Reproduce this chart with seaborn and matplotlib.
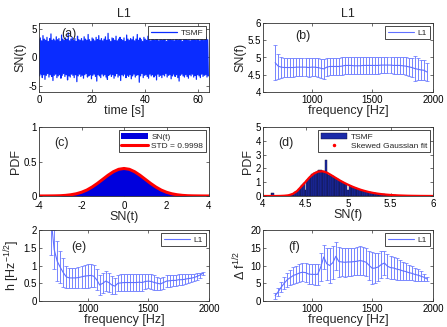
import numpy as np
import matplotlib
matplotlib.use('Agg')
import matplotlib.pyplot as plt
import seaborn as sns
from matplotlib.lines import Line2D
from matplotlib.patches import Patch
from matplotlib.ticker import FuncFormatter

# (a) time series: upper / lower excursions every 0.5 s
sig_up = [3.1, 3.4, 2.9, 3.8, 3.2, 3.0, 3.5, 2.8, 3.3, 4.1, 3.0, 3.2, 2.9, 3.6, 3.1, 3.3,
          2.8, 3.9, 3.2, 3.0, 3.4, 3.1, 4.3, 2.9, 3.2, 3.5, 3.0, 3.3, 2.8, 3.7, 3.1, 3.0,
          3.3, 2.9, 3.6, 3.2, 3.0, 4.0, 3.1, 2.8, 3.4, 3.2, 2.9, 3.5, 3.1, 3.8, 3.0, 3.3,
          2.9, 3.2, 3.6, 3.0, 4.2, 3.1, 2.8, 3.4, 3.3, 3.0, 3.7, 2.9, 3.2, 3.5, 3.1, 3.0,
          3.4, 2.8, 3.9, 3.2, 3.0, 3.3, 3.1, 3.6, 2.9, 3.2, 4.0, 3.0, 3.4, 3.1, 2.8, 3.5,
          3.2, 3.0, 3.7, 3.1, 2.9, 3.3, 4.2, 3.0, 3.2, 3.5, 2.9, 3.1, 3.4, 3.0, 3.8, 3.2,
          2.8, 3.3, 3.1, 3.6, 3.0, 3.2, 2.9, 4.1, 3.3, 3.0, 3.5, 3.1, 2.8, 3.4, 3.2, 3.7,
          3.0, 3.3, 2.9, 3.5, 3.1, 3.9, 3.0, 3.2, 3.4, 2.9, 3.6, 3.1, 3.0, 3.3, 3.5, 3.1]
sig_lo = [-3.2, -2.9, -3.5, -3.0, -3.8, -3.1, -2.8, -3.4, -3.0, -3.3, -4.0, -3.1, -2.9, -3.5, -3.2, -3.0,
          -3.6, -3.1, -2.8, -3.3, -3.0, -3.9, -3.2, -3.4, -2.9, -3.1, -3.5, -3.0, -4.2, -3.2, -2.9, -3.3,
          -3.1, -3.6, -3.0, -2.8, -3.4, -3.2, -3.0, -3.7, -3.1, -2.9, -3.3, -4.1, -3.0, -3.2, -3.5, -2.9,
          -3.2, -3.0, -3.4, -3.8, -3.1, -2.9, -3.3, -3.0, -3.6, -3.2, -2.8, -3.4, -3.1, -4.0, -3.0, -3.2,
          -2.9, -3.5, -3.1, -3.3, -3.0, -3.7, -3.2, -2.9, -3.4, -3.1, -3.0, -4.3, -3.2, -2.8, -3.5, -3.1,
          -3.0, -3.3, -3.6, -2.9, -3.2, -3.0, -3.4, -3.1, -3.9, -2.9, -3.3, -3.1, -3.5, -3.0, -3.2, -2.8,
          -3.4, -3.1, -3.0, -3.7, -3.2, -2.9, -3.3, -3.0, -3.5, -4.1, -3.1, -2.9, -3.2, -3.4, -3.0, -3.3,
          -3.6, -3.0, -3.2, -2.9, -3.4, -3.1, -3.8, -3.0, -3.2, -3.5, -2.9, -3.3, -3.1, -3.0, -3.4, -3.2]

# frequency bins for (b), (e), (f)
freq = list(range(700, 1951, 25))

snf_mean = [4.85, 4.75, 4.72, 4.71, 4.71, 4.71, 4.71, 4.72, 4.72, 4.72, 4.72, 4.71, 4.72, 4.72, 4.71,
            4.69, 4.67, 4.72, 4.74, 4.74, 4.74, 4.74, 4.75, 4.77, 4.77, 4.77, 4.76, 4.76, 4.76, 4.77,
            4.77, 4.77, 4.77, 4.77, 4.77, 4.78, 4.78, 4.78, 4.78, 4.77, 4.77, 4.77, 4.76, 4.75, 4.73,
            4.71, 4.68, 4.66, 4.64, 4.63, 4.58]
snf_err = [0.51, 0.36, 0.30, 0.27, 0.27, 0.27, 0.27, 0.27, 0.27, 0.27, 0.27, 0.27, 0.27, 0.27, 0.27,
           0.27, 0.28, 0.26, 0.25, 0.25, 0.25, 0.25, 0.25, 0.24, 0.24, 0.24, 0.24, 0.24, 0.24, 0.24,
           0.24, 0.24, 0.24, 0.24, 0.24, 0.24, 0.24, 0.24, 0.24, 0.24, 0.24, 0.24, 0.24, 0.25, 0.26,
           0.28, 0.36, 0.32, 0.30, 0.29, 0.25]

h_mean = [2.30, 1.45, 1.12, 0.95, 0.80, 0.68, 0.65, 0.65, 0.65, 0.66, 0.68, 0.70, 0.71, 0.72, 0.70,
          0.60, 0.45, 0.50, 0.56, 0.52, 0.45, 0.42, 0.50, 0.51, 0.52, 0.52, 0.52, 0.52, 0.52, 0.53,
          0.52, 0.55, 0.56, 0.55, 0.52, 0.50, 0.48, 0.52, 0.56, 0.57, 0.58, 0.58, 0.60, 0.60, 0.61,
          0.63, 0.64, 0.66, 0.69, 0.73, 0.78]
h_err = [1.00, 0.55, 0.57, 0.45, 0.40, 0.32, 0.29, 0.28, 0.28, 0.29, 0.30, 0.32, 0.33, 0.32, 0.31,
         0.30, 0.28, 0.28, 0.28, 0.27, 0.25, 0.23, 0.23, 0.24, 0.24, 0.24, 0.24, 0.24, 0.24, 0.24,
         0.24, 0.22, 0.20, 0.20, 0.20, 0.19, 0.18, 0.17, 0.17, 0.17, 0.16, 0.15, 0.15, 0.15, 0.14,
         0.12, 0.11, 0.10, 0.09, 0.07, 0.05]

df_mean = [1.5, 2.6, 3.9, 5.0, 6.0, 6.6, 7.2, 7.5, 7.9, 8.1, 8.0, 7.6, 7.5, 7.5, 7.5,
           9.5, 12.4, 10.5, 10.0, 10.8, 12.6, 11.1, 11.0, 10.9, 11.0, 11.0, 11.1, 11.2, 11.4, 11.2,
           10.9, 10.0, 9.2, 9.3, 9.6, 10.3, 10.7, 9.8, 9.4, 9.3, 9.0, 8.8, 8.5, 8.3, 8.0,
           7.8, 7.5, 7.3, 7.0, 6.7, 6.2]
df_err = [0.8, 1.2, 1.5, 1.7, 2.0, 2.1, 2.3, 2.4, 2.5, 2.5, 2.6, 2.7, 2.8, 2.9, 3.0,
          4.0, 3.5, 4.5, 5.0, 4.6, 4.0, 4.2, 4.0, 4.0, 3.9, 3.9, 3.9, 3.9, 4.0, 3.9,
          3.9, 4.2, 4.5, 4.2, 4.0, 3.8, 3.5, 3.4, 3.2, 3.0, 3.0, 2.8, 2.6, 2.4, 2.2,
          2.0, 1.8, 1.6, 1.4, 1.0, 0.5]

# (c) PDF of SN(t) and gaussian fit values
pdf_x = [-4.0, -3.75, -3.5, -3.25, -3.0, -2.75, -2.5, -2.25, -2.0, -1.75, -1.5, -1.25, -1.0,
         -0.75, -0.5, -0.25, 0.0, 0.25, 0.5, 0.75, 1.0, 1.25, 1.5, 1.75, 2.0, 2.25, 2.5,
         2.75, 3.0, 3.25, 3.5, 3.75, 4.0]
pdf_hist = [0.0001, 0.0004, 0.001, 0.002, 0.004, 0.009, 0.018, 0.032, 0.054, 0.086, 0.130, 0.183,
            0.242, 0.301, 0.352, 0.388, 0.405, 0.388, 0.352, 0.301, 0.242, 0.183, 0.130, 0.086,
            0.054, 0.032, 0.018, 0.009, 0.004, 0.002, 0.001, 0.0004, 0.0001]
pdf_fit = [0.0001, 0.0004, 0.001, 0.002, 0.004, 0.009, 0.018, 0.032, 0.054, 0.086, 0.130, 0.183,
           0.242, 0.301, 0.352, 0.387, 0.399, 0.387, 0.352, 0.301, 0.242, 0.183, 0.130, 0.086,
           0.054, 0.032, 0.018, 0.009, 0.004, 0.002, 0.001, 0.0004, 0.0001]

# (d) histogram of SN(f) and skewed gaussian fit
hist_x = [4.10, 4.12] + [round(4.30 + 0.02 * i, 2) for i in range(66)]
hist_y = [0.22, 0.22,
          0.04, 0.08, 0.12, 0.18, 0.26, 0.36, 0.48, 0.62, 0.78, 0.92, 0.45, 1.15, 1.30, 1.45,
          1.58, 1.68, 1.76, 1.84, 1.86, 1.85, 1.82, 1.78, 2.62, 1.62, 1.55, 1.48, 1.42, 1.35,
          1.28, 1.20, 1.13, 1.06, 0.99, 0.93, 0.87, 0.40, 0.76, 0.70, 0.65, 0.60, 0.55, 0.50,
          0.46, 0.42, 0.38, 0.35, 0.32, 0.29, 0.26, 0.24, 0.22, 0.20, 0.18, 0.16, 0.14, 0.13,
          0.11, 0.10, 0.09, 0.08, 0.07, 0.06, 0.05, 0.04, 0.03, 0.02]
fit_x = [round(4.0 + 0.05 * i, 2) for i in range(41)]
fit_y = [0, 0, 0, 0, 0.005, 0.02, 0.05, 0.15, 0.35, 0.68, 1.02, 1.37, 1.63, 1.77, 1.79, 1.70,
         1.52, 1.33, 1.14, 0.97, 0.82, 0.68, 0.56, 0.45, 0.36, 0.28, 0.22, 0.17, 0.13, 0.10,
         0.075, 0.055, 0.04, 0.03, 0.02, 0.014, 0.01, 0.006, 0.004, 0.002, 0.001]

sns.set_theme(style='white')
plt.rcParams['font.family'] = ['Liberation Sans', 'DejaVu Sans']
plt.rcParams['axes.unicode_minus'] = False
plt.rcParams['mathtext.fontset'] = 'custom'
plt.rcParams['mathtext.rm'] = 'Liberation Sans'
plt.rcParams['mathtext.it'] = 'Liberation Sans'

fig = plt.figure(figsize=(4.47, 3.27), dpi=100)
W, H = 447, 327


def make_ax(x0, y0, x1, y1):
    return fig.add_axes([x0 / W, 1 - y1 / H, (x1 - x0) / W, (y1 - y0) / H])


ax_a = make_ax(39, 23, 209, 92)
ax_b = make_ax(263, 23, 433, 92)
ax_c = make_ax(39, 127, 209, 196)
ax_d = make_ax(263, 127, 433, 196)
ax_e = make_ax(39, 230, 209, 301)
ax_f = make_ax(263, 230, 433, 301)

blue = '#0a2cff'
lblue = '#6070ff'
fmt = FuncFormatter(lambda v, p: '%g' % v)


def style(ax, xpad=2.5):
    for s in ax.spines.values():
        s.set_color('#333333')
        s.set_linewidth(0.6)
    ax.tick_params(direction='in', length=2.5, width=0.5, labelsize=7, pad=1.5,
                   top=True, right=True, bottom=True, left=True, colors='#333333',
                   labelcolor='black')
    ax.tick_params(axis='x', pad=xpad)
    ax.xaxis.set_major_formatter(fmt)
    ax.yaxis.set_major_formatter(fmt)


def legend(ax, handles=None, labels=None, **kw):
    if handles is None:
        handles, labels = ax.get_legend_handles_labels()
    lg = ax.legend(handles, labels, loc='upper right', fontsize=6, fancybox=False,
                   framealpha=1, edgecolor='black', borderpad=0.3, handlelength=3.2,
                   handletextpad=0.4, labelspacing=0.15, borderaxespad=0.4, **kw)
    lg.get_frame().set_linewidth(0.5)


# (a)
t = np.arange(256) * 0.25
sig = np.empty(256)
sig[0::2] = sig_up
sig[1::2] = sig_lo
sns.lineplot(x=t, y=sig, ax=ax_a, color=blue, lw=0.9, sort=False, label='TSMF')
ax_a.set_xlim(0, 64)
ax_a.set_ylim(-6, 6)
ax_a.set_xticks([0, 20, 40, 60])
ax_a.set_yticks([-5, 0, 5])
ax_a.set_xlabel('time [s]', fontsize=9, labelpad=0)
ax_a.set_ylabel('SN(t)', fontsize=9, labelpad=1)
ax_a.set_title('L1', fontsize=9, pad=4)
ax_a.text(0.13, 0.93, '(a)', transform=ax_a.transAxes, fontsize=9, va='top')
style(ax_a)
legend(ax_a)


def err_panel(ax, mean, err, ylim, yticks, ylabel, tag, tag_xy):
    ax.errorbar(freq, mean, yerr=err, fmt='none', ecolor=lblue, elinewidth=0.6,
                capsize=1.3, capthick=0.5)
    sns.lineplot(x=freq, y=mean, ax=ax, color=lblue, lw=0.8, label='L1')
    ax.set_xlim(600, 2000)
    ax.set_ylim(*ylim)
    ax.set_xticks([1000, 1500, 2000])
    ax.set_yticks(yticks)
    ax.set_xlabel('frequency [Hz]', fontsize=9, labelpad=0)
    ax.set_ylabel(ylabel, fontsize=9, labelpad=1)
    ax.text(tag_xy[0], tag_xy[1], tag, transform=ax.transAxes, fontsize=9, va='top')
    style(ax)
    legend(ax)


err_panel(ax_b, snf_mean, snf_err, (4, 6), [4, 4.5, 5, 5.5, 6], 'SN(f)', '(b)', (0.19, 0.9))
ax_b.set_title('L1', fontsize=9, pad=4)
err_panel(ax_e, h_mean, h_err, (0, 2), [0, 0.5, 1, 1.5, 2], 'h [Hz$^{-1/2}$]', '(e)',
          (0.19, 0.84))
err_panel(ax_f, df_mean, df_err, (0, 20), [0, 5, 10, 15, 20], r'$\Delta$ f$^{1/2}$', '(f)',
          (0.15, 0.84))

# (c)
ax_c.fill_between(pdf_x, pdf_hist, color='#0000dd', lw=0, label='SN(t)')
sns.lineplot(x=pdf_x, y=pdf_fit, ax=ax_c, color='red', lw=2.2, label='STD = 0.9998')
ax_c.set_xlim(-4, 4)
ax_c.set_ylim(0, 1)
ax_c.set_xticks([-4, -2, 0, 2, 4])
ax_c.set_yticks([0, 0.5, 1])
ax_c.set_xlabel('SN(t)', fontsize=9, labelpad=0)
ax_c.set_ylabel('PDF', fontsize=9, labelpad=1)
ax_c.text(0.09, 0.85, '(c)', transform=ax_c.transAxes, fontsize=9, va='top')
style(ax_c, xpad=3.5)
legend(ax_c)

# (d)
ax_d.bar(hist_x, hist_y, width=0.02, color='#1a2aa8', edgecolor='#111133', lw=0.3)
sns.lineplot(x=fit_x, y=fit_y, ax=ax_d, color='red', lw=1.6)
ax_d.set_xlim(4, 6)
ax_d.set_ylim(0, 5)
ax_d.set_xticks([4, 4.5, 5, 5.5, 6])
ax_d.set_yticks([0, 1, 2, 3, 4, 5])
ax_d.set_xlabel('SN(f)', fontsize=9, labelpad=0)
ax_d.set_ylabel('PDF', fontsize=9, labelpad=1)
ax_d.text(0.09, 0.85, '(d)', transform=ax_d.transAxes, fontsize=9, va='top')
style(ax_d)
legend(ax_d, [Patch(facecolor='#1a2aa8', edgecolor='#111133', lw=0.3),
              Line2D([], [], color='red', marker='.', ls='none', markersize=3)],
       ['TSMF', 'Skewed Gaussian fit'])

fig.savefig('out.png', dpi=100)
